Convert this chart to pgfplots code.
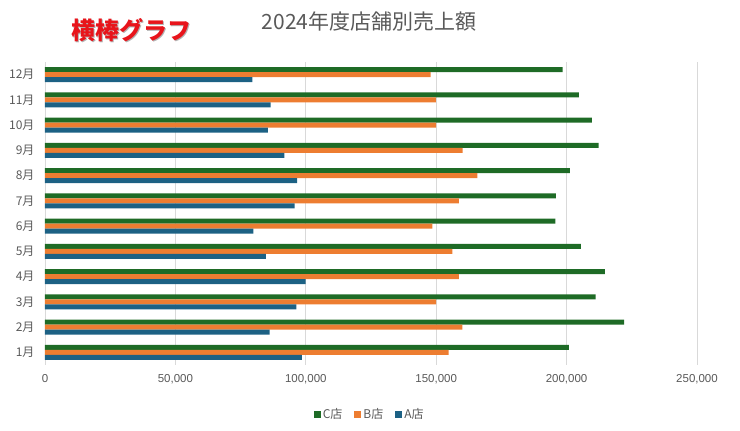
\documentclass[border=0pt]{standalone}
\usepackage{fontspec}
\usepackage{pgfplots}
\usepackage{pgfplotstable}
\pgfplotsset{compat=1.18}
\newfontfamily\cjk{Noto Sans CJK JP}
\newfontfamily\lsans{Liberation Sans}
\definecolor{cC}{HTML}{1E6B26}
\definecolor{cB}{HTML}{ED7D31}
\definecolor{cA}{HTML}{1C6184}
\definecolor{txt}{HTML}{595959}
\definecolor{grd}{HTML}{D9D9D9}
\definecolor{redt}{HTML}{E8141B}
\pgfplotstableread{
m C B A
1 200900 154800 98500
2 222100 160000 86100
3 211100 150000 96400
4 214700 158700 99900
5 205500 156200 84700
6 195700 148500 79900
7 195900 158700 95700
8 201300 165800 96700
9 212300 160100 91800
10 209700 150000 85500
11 204700 149900 86500
12 198500 147900 79500
}\sales
\begin{document}
\begin{tikzpicture}
\path[use as bounding box] (0pt,0pt) rectangle (740pt,431pt);
\begin{axis}[
  at={(45pt,66pt)}, anchor=south west, scale only axis,
  width=652pt, height=303pt,
  xmin=0, xmax=250000, ymin=0.5, ymax=12.5,
  xbar, bar width=5pt,
  axis line style={draw=none},
  xmajorgrids, major grid style={grd, line width=0.9pt},
  major tick length=0pt,
  xtick={0,50000,100000,150000,200000,250000},
  xticklabels={0,{50,000},{100,000},{150,000},{200,000},{250,000}},
  scaled x ticks=false,
  ytick={1,2,3,4,5,6,7,8,9,10,11,12},
  yticklabels={1月,2月,3月,4月,5月,6月,7月,8月,9月,10月,11月,12月},
  xticklabel style={font=\lsans\fontsize{11.5}{12}\selectfont, text=txt, yshift=-6pt},
  yticklabel style={font=\cjk\fontsize{12}{13}\selectfont, text=txt, xshift=-7pt},
  legend style={at={(0.498,-0.162)}, anchor=center, draw=none, fill=none,
    font=\cjk\fontsize{12}{13}\selectfont, text=txt,
    legend columns=3, /tikz/every even column/.append style={column sep=10pt}},
  legend image code/.code={\fill[#1] (0pt,-3.5pt) rectangle (7pt,3.5pt);},
]
\addplot[fill=cC, draw=none, bar shift=5pt] table[x=C, y=m] {\sales};
\addplot[fill=cB, draw=none, bar shift=0pt] table[x=B, y=m] {\sales};
\addplot[fill=cA, draw=none, bar shift=-5pt] table[x=A, y=m] {\sales};
\legend{C店,B店,A店}
\end{axis}
\node[text=txt, font=\cjk\fontsize{21}{23}\selectfont] at (369pt,409pt) {2024年度店舗別売上額};
\node[text=black!30, font=\cjk\bfseries\fontsize{24}{26}\selectfont] at (132.5pt,399.5pt) {横棒グラフ};
\node[text=redt, font=\cjk\bfseries\fontsize{24}{26}\selectfont] at (131pt,401pt) {横棒グラフ};
\end{tikzpicture}
\end{document}
